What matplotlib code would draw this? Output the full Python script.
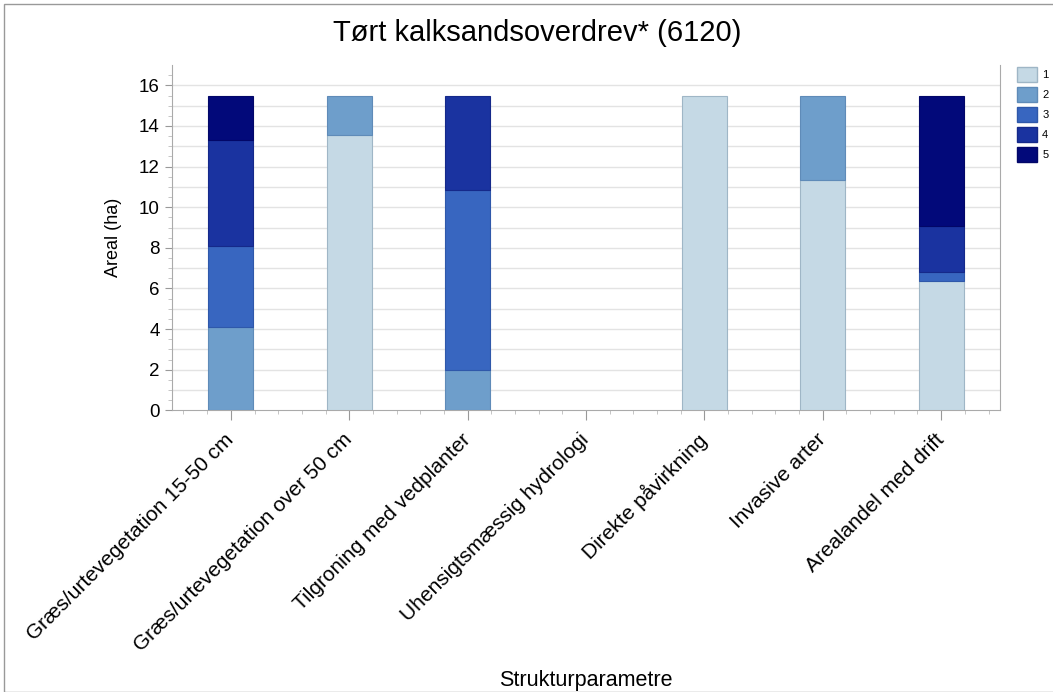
import matplotlib.pyplot as plt
import numpy as np
from matplotlib.patches import Patch

plt.rcParams['font.family'] = ['Liberation Sans', 'DejaVu Sans']

categories = ['Græs/urtevegetation 15-50 cm', 'Græs/urtevegetation over 50 cm',
              'Tilgroning med vedplanter', 'Uhensigtsmæssig hydrologi',
              'Direkte påvirkning', 'Invasive arter', 'Arealandel med drift']
classes = ['1', '2', '3', '4', '5']
# areal (ha) per klasse
s1 = [0.0, 13.55, 0.0, 0.0, 15.5, 11.35, 6.38]
s2 = [4.1, 1.95, 2.0, 0.0, 0.0, 4.15, 0.0]
s3 = [3.98, 0.0, 8.85, 0.0, 0.0, 0.0, 0.43]
s4 = [5.22, 0.0, 4.65, 0.0, 0.0, 0.0, 2.27]
s5 = [2.2, 0.0, 0.0, 0.0, 0.0, 0.0, 6.42]
series = [s1, s2, s3, s4, s5]
colors = ['#c5d9e5', '#6e9ecb', '#3866c0', '#1a33a0', '#02097a']
edges = ['#9fb6c6', '#5f8bb8', '#2f58aa', '#15298a', '#020768']

fig = plt.figure(figsize=(10.53, 6.92), dpi=100)
ax = fig.add_axes([0.163, 0.407, 0.787, 0.499])

x = np.arange(len(categories))
bottom = np.zeros(len(categories))
for vals, c, ec in zip(series, colors, edges):
    vals = np.array(vals)
    m = vals > 0
    ax.bar(x[m], vals[m], width=0.38, bottom=bottom[m], color=c, edgecolor=ec,
           linewidth=0.8, zorder=3)
    bottom += vals

ax.set_ylim(0, 17)
ax.set_xlim(-0.5, len(categories) - 0.5)
ax.set_yticks(np.arange(0, 17, 2))
ax.set_yticks(np.arange(0, 17, 0.5), minor=True)
for yy in np.arange(1, 17, 1):
    ax.axhline(yy, color='#e3e3e3', linewidth=1, zorder=1)
ax.tick_params(axis='y', which='major', length=5, color='#999999', labelsize=13.5)
ax.tick_params(axis='y', which='minor', length=3, color='#bbbbbb')

ax.set_xticks(x)
ax.set_xticklabels(categories, rotation=45, ha='right', va='center',
                   rotation_mode='anchor', fontsize=15)
minor_x = np.concatenate([x + d for d in (-0.4, -0.2, 0.2, 0.4)])
ax.set_xticks(minor_x, minor=True)
ax.tick_params(axis='x', which='major', length=7, color='#999999', pad=12)
ax.tick_params(axis='x', which='minor', length=3, color='#bbbbbb')

for s in ['left', 'bottom', 'right']:
    ax.spines[s].set_color('#aaaaaa')
ax.spines['top'].set_visible(False)

ax.set_ylabel('Areal (ha)', fontsize=13)
ax.yaxis.set_label_coords(-0.06, 0.5)
ax.set_xlabel('Strukturparametre', fontsize=15.5)
ax.xaxis.set_label_coords(0.5, -0.752)
fig.text(0.51, 0.952, 'Tørt kalksandsoverdrev* (6120)', fontsize=21,
         ha='center', va='center')

handles = [Patch(facecolor=c, edgecolor=ec) for c, ec in zip(colors, edges)]
fig.legend(handles, classes, loc='upper left', bbox_to_anchor=(0.958, 0.915),
           frameon=False, fontsize=8, handlelength=1.8, handleheight=1.7,
           handletextpad=0.5, labelspacing=0.45, borderaxespad=0.3)

fig.patches.append(plt.Rectangle((0.004, 0.0), 1.2, 0.994, transform=fig.transFigure,
                                 fill=False, edgecolor='#999999', linewidth=1))

fig.savefig('out.png', dpi=100)
